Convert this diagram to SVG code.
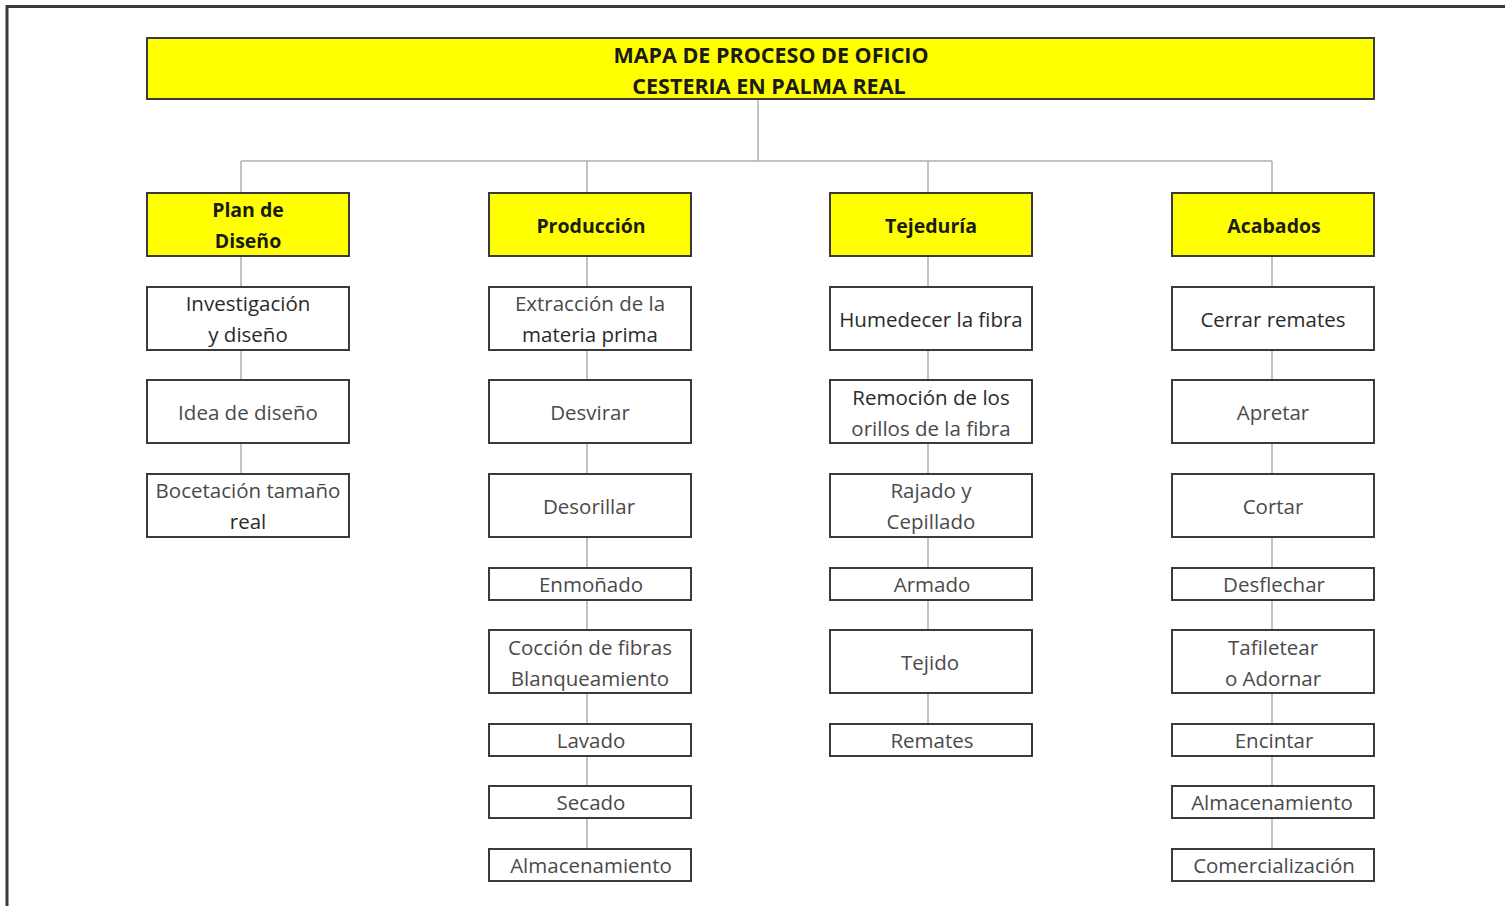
<svg xmlns="http://www.w3.org/2000/svg" width="1505" height="906" viewBox="0 0 1505 906">
<style>
.frame{fill:none;stroke:#3a3a3a;stroke-width:3}
.hdr{fill:#ffff00;stroke:#3a3a3a;stroke-width:2}
.box{fill:#ffffff;stroke:#3a3a3a;stroke-width:2}
.ln{fill:none;stroke:#b0b0b0;stroke-width:1.5}
text{font-family:"Open Sans","Liberation Sans",sans-serif;text-anchor:middle;dominant-baseline:central}
.tb{font-weight:bold;font-size:19.5px;fill:#1a1a1a}
.tt{font-weight:bold;font-size:21.5px;fill:#1a1a1a}
.t{font-size:20.5px;fill:#4a4a4a}
.td{font-size:20.5px;fill:#2a2a2a}
</style>
<rect x="0" y="0" width="1505" height="906" fill="#ffffff"/>
<path class="frame" d="M7,906 V6.5 H1505"/>
<g id="connectors">
<path class="ln" d="M758,99 V161 M241,161 H1272 M241,161 V474 M587,161 V849 M928,161 V724 M1272,161 V849"/>
</g>
<g id="title"><rect class="hdr" x="147" y="38" width="1227" height="61"/><text class="tt" x="771" y="54">MAPA DE PROCESO DE OFICIO</text><text class="tt" x="769" y="85">CESTERIA EN PALMA REAL</text></g>
<g id="plan"><rect class="hdr" x="147" y="193" width="202" height="63"/><text class="tb" x="248" y="209">Plan de</text><text class="tb" x="248" y="240">Diseño</text></g>
<g id="produccion"><rect class="hdr" x="489" y="193" width="202" height="63"/><text class="tb" x="591" y="225">Producción</text></g>
<g id="tejeduria"><rect class="hdr" x="830" y="193" width="202" height="63"/><text class="tb" x="931" y="225">Tejeduría</text></g>
<g id="acabados"><rect class="hdr" x="1172" y="193" width="202" height="63"/><text class="tb" x="1274" y="225">Acabados</text></g>

<g id="investigacion"><rect class="box" x="147" y="287" width="202" height="63"/><text class="td" x="248" y="303">Investigación</text><text class="td" x="248" y="334">y diseño</text></g>
<g id="idea"><rect class="box" x="147" y="380" width="202" height="63"/><text class="t" x="248" y="412">Idea de diseño</text></g>
<g id="bocetacion"><rect class="box" x="147" y="474" width="202" height="63"/><text class="t" x="248" y="490">Bocetación tamaño</text><text class="td" x="248" y="521">real</text></g>

<g id="extraccion"><rect class="box" x="489" y="287" width="202" height="63"/><text class="t" x="590" y="303">Extracción de la</text><text class="td" x="590" y="334">materia prima</text></g>
<g id="desvirar"><rect class="box" x="489" y="380" width="202" height="63"/><text class="t" x="590" y="412">Desvirar</text></g>
<g id="desorillar"><rect class="box" x="489" y="474" width="202" height="63"/><text class="t" x="589" y="506">Desorillar</text></g>
<g id="enmonado"><rect class="box" x="489" y="568" width="202" height="32"/><text class="t" x="591" y="584">Enmoñado</text></g>
<g id="coccion"><rect class="box" x="489" y="630" width="202" height="63"/><text class="t" x="590" y="647">Cocción de fibras</text><text class="t" x="590" y="678">Blanqueamiento</text></g>
<g id="lavado"><rect class="box" x="489" y="724" width="202" height="32"/><text class="t" x="591" y="740">Lavado</text></g>
<g id="secado"><rect class="box" x="489" y="786" width="202" height="32"/><text class="t" x="591" y="802">Secado</text></g>
<g id="almacenamiento1"><rect class="box" x="489" y="849" width="202" height="32"/><text class="t" x="591" y="865">Almacenamiento</text></g>

<g id="humedecer"><rect class="box" x="830" y="287" width="202" height="63"/><text class="td" x="931" y="319">Humedecer la fibra</text></g>
<g id="remocion"><rect class="box" x="830" y="380" width="202" height="63"/><text class="td" x="931" y="397">Remoción de los</text><text class="t" x="931" y="428">orillos de la fibra</text></g>
<g id="rajado"><rect class="box" x="830" y="474" width="202" height="63"/><text class="t" x="931" y="490">Rajado y</text><text class="t" x="931" y="521">Cepillado</text></g>
<g id="armado"><rect class="box" x="830" y="568" width="202" height="32"/><text class="t" x="932" y="584">Armado</text></g>
<g id="tejido"><rect class="box" x="830" y="630" width="202" height="63"/><text class="t" x="930" y="662">Tejido</text></g>
<g id="remates"><rect class="box" x="830" y="724" width="202" height="32"/><text class="t" x="932" y="740">Remates</text></g>

<g id="cerrar"><rect class="box" x="1172" y="287" width="202" height="63"/><text class="td" x="1273" y="319">Cerrar remates</text></g>
<g id="apretar"><rect class="box" x="1172" y="380" width="202" height="63"/><text class="t" x="1273" y="412">Apretar</text></g>
<g id="cortar"><rect class="box" x="1172" y="474" width="202" height="63"/><text class="t" x="1273" y="506">Cortar</text></g>
<g id="desflechar"><rect class="box" x="1172" y="568" width="202" height="32"/><text class="t" x="1274" y="584">Desflechar</text></g>
<g id="tafiletear"><rect class="box" x="1172" y="630" width="202" height="63"/><text class="t" x="1273" y="647">Tafiletear</text><text class="t" x="1273" y="678">o Adornar</text></g>
<g id="encintar"><rect class="box" x="1172" y="724" width="202" height="32"/><text class="t" x="1274" y="740">Encintar</text></g>
<g id="almacenamiento2"><rect class="box" x="1172" y="786" width="202" height="32"/><text class="t" x="1272" y="802">Almacenamiento</text></g>
<g id="comercializacion"><rect class="box" x="1172" y="849" width="202" height="32"/><text class="t" x="1274" y="865">Comercialización</text></g>
</svg>
